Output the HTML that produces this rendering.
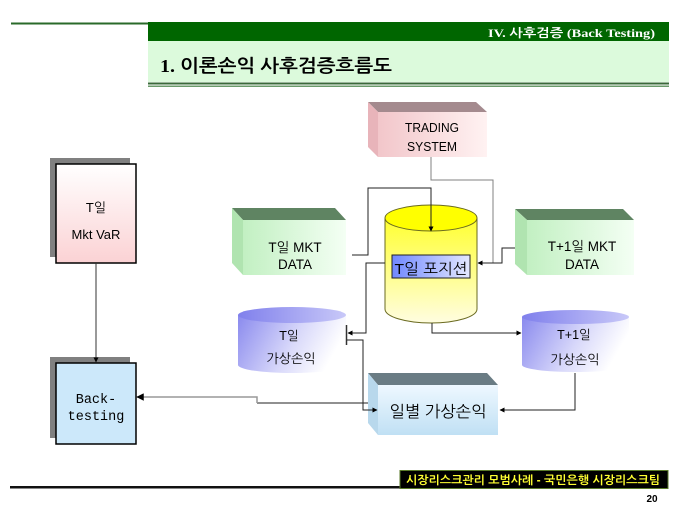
<!DOCTYPE html>
<html><head><meta charset="utf-8"><style>
html,body{margin:0;padding:0;background:#fff;}
svg{display:block;}
text{font-family:"Liberation Sans","NanumGothic","Noto Sans CJK KR",sans-serif;}
</style></head><body>
<svg width="680" height="510" viewBox="0 0 680 510" xmlns="http://www.w3.org/2000/svg">
<defs>
<linearGradient id="pinkV" x1="0" y1="0" x2="0" y2="1"><stop offset="0" stop-color="#ffffff"/><stop offset="1" stop-color="#fbd2d4"/></linearGradient>
<linearGradient id="tsFront" x1="0" y1="0" x2="1" y2="0"><stop offset="0" stop-color="#f2c6ca"/><stop offset="1" stop-color="#fff2f2"/></linearGradient>
<linearGradient id="grFront" x1="0" y1="0" x2="1" y2="0"><stop offset="0" stop-color="#c2f0c2"/><stop offset="1" stop-color="#f4fff4"/></linearGradient>
<linearGradient id="blFront" x1="0" y1="0" x2="0" y2="1"><stop offset="0" stop-color="#eef8ff"/><stop offset="1" stop-color="#c0e0f4"/></linearGradient>
<linearGradient id="vio" x1="0" y1="0" x2="1" y2="0.3"><stop offset="0" stop-color="#8a8aee"/><stop offset="0.6" stop-color="#d8d8fa"/><stop offset="1" stop-color="#ffffff"/></linearGradient>
<linearGradient id="vioTop" x1="0" y1="0" x2="1" y2="0"><stop offset="0" stop-color="#8080ec"/><stop offset="1" stop-color="#c8c8f8"/></linearGradient>
<linearGradient id="yel" x1="0" y1="0" x2="0" y2="1"><stop offset="0" stop-color="#ffff30"/><stop offset="1" stop-color="#fffde0"/></linearGradient>
<linearGradient id="pos" x1="0" y1="0" x2="1" y2="0"><stop offset="0" stop-color="#7088ff"/><stop offset="1" stop-color="#e4e8ff"/></linearGradient>
<marker id="ah" viewBox="0 0 10 10" refX="9" refY="5" markerWidth="5" markerHeight="5" orient="auto"><path d="M0,0 L10,5 L0,10 z" fill="#000"/></marker>
</defs>

<!-- header -->
<rect x="11" y="22.5" width="137" height="2" fill="#2a6a2a"/>
<rect x="148" y="22" width="521" height="19" fill="#006600"/>
<rect x="148" y="41" width="521" height="41" fill="#dcfadc"/>
<rect x="148" y="82.5" width="521" height="2" fill="#3a6a3a"/>
<rect x="148" y="85.5" width="521" height="1.5" fill="#6a9a6a"/>
<text x="488" y="37" fill="#ffffff" font-size="12" font-weight="bold" textLength="167" lengthAdjust="spacingAndGlyphs" style="font-family:'Liberation Serif','NanumGothic',serif">IV.  사후검증 (Back Testing)</text>
<text x="160" y="72" fill="#000" font-size="18" font-weight="bold" textLength="232" lengthAdjust="spacingAndGlyphs" style="font-family:'Liberation Serif','NanumGothic',serif">1. 이론손익 사후검증흐름도</text>

<!-- left boxes -->
<rect x="50" y="158" width="80" height="99" fill="#808080"/>
<rect x="56" y="164" width="80" height="99" fill="url(#pinkV)" stroke="#000" stroke-width="1.5"/>
<text x="96" y="212" font-size="13" text-anchor="middle">T일</text>
<text x="96" y="239" font-size="13" text-anchor="middle">Mkt VaR</text>

<rect x="50" y="357" width="80" height="81" fill="#808080"/>
<rect x="56" y="363" width="80" height="81" fill="#cce8fa" stroke="#000" stroke-width="1.5"/>
<text x="96" y="403" font-size="13.5" text-anchor="middle" style="font-family:'Liberation Mono','NanumGothic',monospace">Back-</text>
<text x="96" y="420" font-size="13.5" text-anchor="middle" style="font-family:'Liberation Mono','NanumGothic',monospace">testing</text>

<line x1="96" y1="263" x2="96" y2="362" stroke="#333" stroke-width="1" marker-end="url(#ah)"/>

<!-- TRADING SYSTEM -->
<polygon points="368,102 476,102 487,112 378,112" fill="#a48a8e"/>
<polygon points="368,102 378,112 378,157 368,147" fill="#e8b4ba"/>
<rect x="378" y="112" width="109" height="45" fill="url(#tsFront)"/>
<text x="432" y="132" font-size="12.5" text-anchor="middle" textLength="54" lengthAdjust="spacingAndGlyphs">TRADING</text>
<text x="432" y="151" font-size="12.5" text-anchor="middle" textLength="50" lengthAdjust="spacingAndGlyphs">SYSTEM</text>

<!-- T일 MKT DATA -->
<polygon points="232,208 335,208 346,220 243,220" fill="#5f8462"/>
<polygon points="232,208 243,220 243,275 232,263" fill="#b0e4b0"/>
<rect x="243" y="220" width="103" height="55" fill="url(#grFront)"/>
<text x="295" y="252" font-size="13.5" text-anchor="middle">T일 MKT</text>
<text x="295" y="269" font-size="13.5" text-anchor="middle">DATA</text>

<!-- T+1일 MKT DATA -->
<polygon points="515,209 623,209 634,220 527,220" fill="#5f8462"/>
<polygon points="515,209 527,220 527,275 515,264" fill="#b0e4b0"/>
<rect x="527" y="220" width="107" height="55" fill="url(#grFront)"/>
<text x="582" y="251" font-size="13.5" text-anchor="middle">T+1일 MKT</text>
<text x="582" y="269" font-size="13.5" text-anchor="middle">DATA</text>

<!-- yellow cylinder -->
<path d="M385,218 L385,309 A46,14 0 0 0 477,309 L477,218 Z" fill="url(#yel)" stroke="#6a6a20" stroke-width="1"/>
<ellipse cx="431" cy="218" rx="46" ry="13" fill="#ffff00" stroke="#6a6a20" stroke-width="1"/>
<rect x="392" y="255" width="78" height="23" fill="url(#pos)" stroke="#222" stroke-width="1"/>
<text x="431" y="274" font-size="15" text-anchor="middle" textLength="73" lengthAdjust="spacingAndGlyphs">T일 포지션</text>

<!-- T일 가상손익 cylinder -->
<path d="M238,315 L238,365 A54,8 0 0 0 346,365 L346,315 Z" fill="url(#vio)"/>
<ellipse cx="292" cy="315" rx="54" ry="8" fill="url(#vioTop)"/>
<text x="289" y="340" font-size="12.5" text-anchor="middle">T일</text>
<text x="291" y="363" font-size="13" text-anchor="middle">가상손익</text>
<line x1="346.5" y1="325" x2="346.5" y2="345" stroke="#333" stroke-width="1.5"/>

<!-- T+1일 가상손익 cylinder -->
<path d="M522,317 L522,365 A53.5,7 0 0 0 629,365 L629,317 Z" fill="url(#vio)"/>
<ellipse cx="575.5" cy="317" rx="53.5" ry="7" fill="url(#vioTop)"/>
<text x="574" y="339" font-size="12.5" text-anchor="middle">T+1일</text>
<text x="575" y="364" font-size="13" text-anchor="middle">가상손익</text>

<!-- 일별 가상손익 box -->
<polygon points="368,373 487,373 498,385 378,385" fill="#6a7c84"/>
<polygon points="368,373 378,385 378,435 368,423" fill="#b8d8ec"/>
<rect x="378" y="385" width="120" height="50" fill="url(#blFront)"/>
<text x="438" y="417" font-size="16" text-anchor="middle" textLength="97" lengthAdjust="spacingAndGlyphs">일별 가상손익</text>

<!-- connectors -->
<g fill="none" stroke-width="1">
<polyline points="431,157 431,180 493,180 493,263 480,263" stroke="#808080"/>
<polyline points="493,263 478,263" stroke="#222" marker-end="url(#ah)"/>
<polyline points="515,248 502,248 502,263 493,263" stroke="#222"/>
<polyline points="352,255 368,255 368,188 431,188 431,231" stroke="#222" marker-end="url(#ah)"/>
<polyline points="385,263 366,263 366,333 348,333" stroke="#222" marker-end="url(#ah)"/>
<polyline points="347,340 363,340 363,410 377,410" stroke="#222" marker-end="url(#ah)"/>
<polyline points="432,323 432,333 521,333" stroke="#222" marker-end="url(#ah)"/>
<polyline points="575,373 575,410 500,410" stroke="#222" marker-end="url(#ah)"/>
<polyline points="368,403 257,403" stroke="#222"/>
<polyline points="257,403 257,397 137,397" stroke="#999" stroke-width="1.5" marker-end="url(#ah)"/>
</g>

<!-- footer -->
<rect x="10" y="486" width="390" height="2" fill="#111"/>
<rect x="10" y="488" width="390" height="1" fill="#888"/>
<rect x="400" y="470.5" width="268" height="18" fill="#000" stroke="#5a7a2a" stroke-width="1"/>
<text x="533" y="484" fill="#ffff33" font-size="11.5" font-weight="bold" text-anchor="middle" textLength="254" lengthAdjust="spacingAndGlyphs">시장리스크관리 모범사례 - 국민은행 시장리스크팀</text>
<text x="652" y="502" fill="#000" font-size="10" font-weight="bold" text-anchor="middle">20</text>
</svg>
</body></html>
